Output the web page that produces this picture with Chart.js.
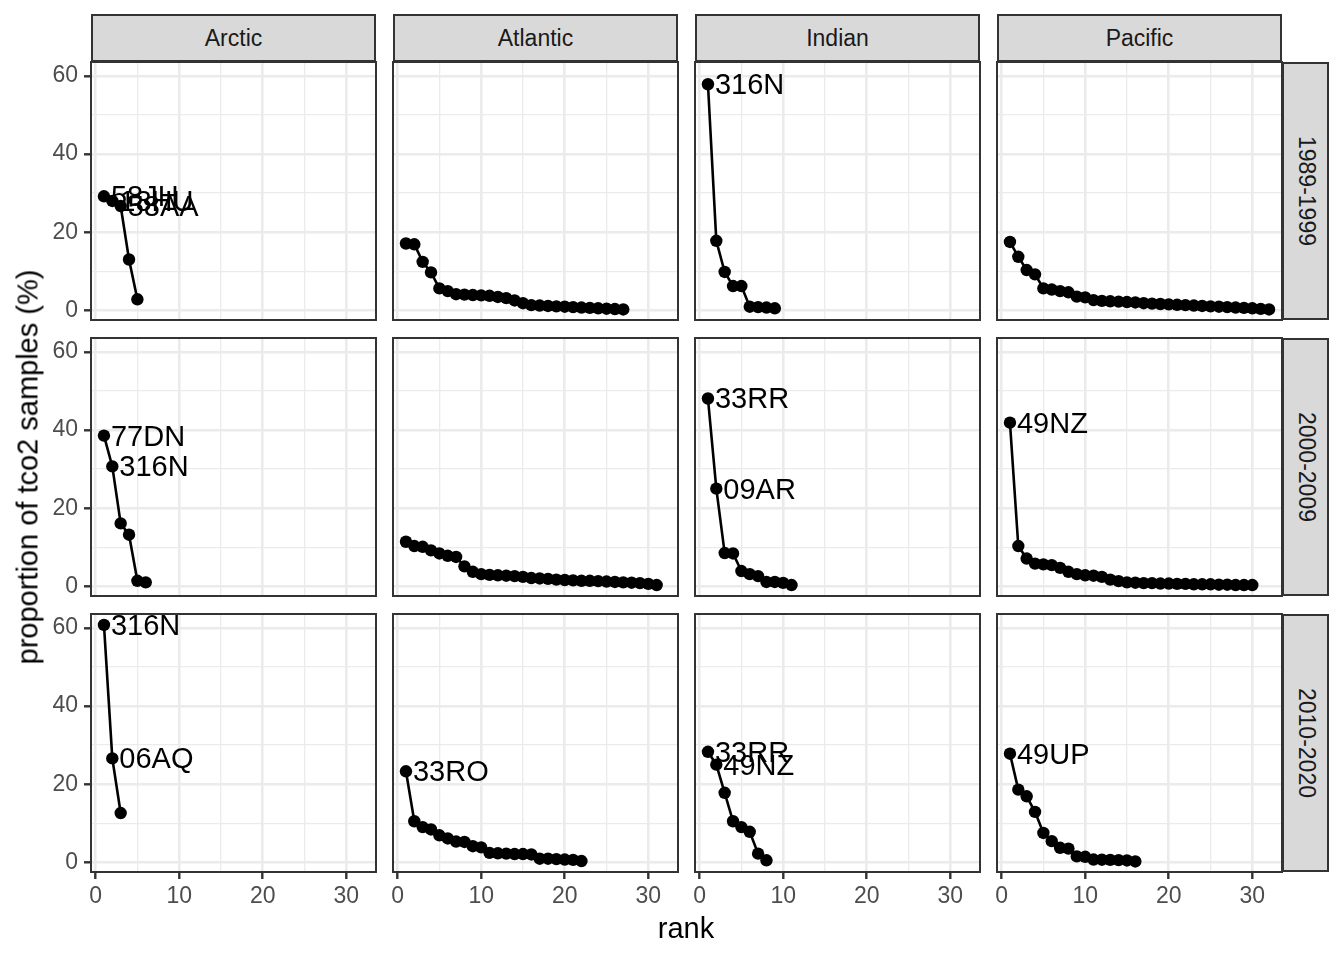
<!DOCTYPE html>
<html><head><meta charset="utf-8">
<script src="https://cdn.jsdelivr.net/npm/chart.js@4.4.1/dist/chart.umd.min.js"></script>
<style>
html,body{margin:0;padding:0;background:#fff;}
body{width:1344px;height:960px;position:relative;overflow:hidden;font-family:"Liberation Sans",Arial,sans-serif;}
canvas{position:absolute;}
.strip{position:absolute;background:#D9D9D9;border:2px solid #333;box-sizing:border-box;color:#1A1A1A;font-size:23px;}
.title{position:absolute;color:#000;font-size:29px;}
.strip span,.title span{position:absolute;left:50%;top:50%;white-space:nowrap;display:block;}
</style></head>
<body>
<script>
// ---- data ----
const regions = ['Arctic', 'Atlantic', 'Indian', 'Pacific'];
const periods = ['1989-1999', '2000-2009', '2010-2020'];
const xTicks = [0, 10, 20, 30];
const yTicks = [0, 20, 40, 60];

const arctic_1989   = [29.2, 28.0, 26.7, 13.0, 2.8];
const atlantic_1989 = [17.1, 16.9, 12.4, 9.7, 5.6, 4.9, 4.1, 4.0, 3.9, 3.8, 3.7, 3.4, 3.1, 2.5, 1.8, 1.3, 1.2, 1.1, 1.0, 0.9, 0.8, 0.7, 0.6, 0.5, 0.4, 0.3, 0.2];
const indian_1989   = [57.9, 17.8, 9.8, 6.2, 6.2, 0.9, 0.8, 0.7, 0.5];
const pacific_1989  = [17.5, 13.7, 10.3, 9.2, 5.6, 5.3, 4.9, 4.6, 3.5, 3.3, 2.6, 2.4, 2.3, 2.2, 2.1, 2.0, 1.8, 1.7, 1.6, 1.5, 1.4, 1.3, 1.2, 1.1, 1.0, 0.9, 0.8, 0.7, 0.6, 0.5, 0.35, 0.2];

const arctic_2000   = [38.6, 30.7, 16.1, 13.2, 1.4, 1.0];
const atlantic_2000 = [11.4, 10.3, 10.1, 9.2, 8.4, 7.8, 7.5, 5.1, 3.7, 3.1, 2.9, 2.8, 2.7, 2.6, 2.4, 2.1, 2.0, 1.9, 1.7, 1.6, 1.5, 1.4, 1.4, 1.3, 1.2, 1.1, 1.0, 0.9, 0.8, 0.6, 0.3];
const indian_2000   = [48.1, 25.0, 8.5, 8.4, 3.9, 3.1, 2.6, 1.1, 1.1, 0.85, 0.3];
const pacific_2000  = [41.9, 10.3, 7.1, 5.8, 5.6, 5.4, 4.7, 3.7, 3.1, 2.8, 2.7, 2.4, 1.7, 1.3, 1.0, 0.9, 0.8, 0.8, 0.7, 0.7, 0.6, 0.6, 0.5, 0.5, 0.5, 0.4, 0.4, 0.3, 0.3, 0.3];

const arctic_2010   = [60.8, 26.6, 12.6];
const atlantic_2010 = [23.3, 10.5, 9.0, 8.4, 6.9, 6.1, 5.3, 5.2, 4.1, 3.8, 2.4, 2.3, 2.2, 2.1, 2.1, 2.0, 0.9, 0.9, 0.8, 0.7, 0.6, 0.3];
const indian_2010   = [28.3, 25.0, 17.8, 10.5, 9.0, 7.8, 2.2, 0.5];
const pacific_2010  = [27.8, 18.6, 16.9, 12.9, 7.5, 5.4, 3.7, 3.5, 1.5, 1.4, 0.7, 0.65, 0.6, 0.55, 0.45, 0.2];

// cruise labels for the top-ranked points
const arctic_1989_labels   = ['58JH', '18HU', '58AA'];
const atlantic_1989_labels = [];
const indian_1989_labels   = ['316N'];
const pacific_1989_labels  = [];
const arctic_2000_labels   = ['77DN', '316N'];
const atlantic_2000_labels = [];
const indian_2000_labels   = ['33RR', '09AR'];
const pacific_2000_labels  = ['49NZ'];
const arctic_2010_labels   = ['316N', '06AQ'];
const atlantic_2010_labels = ['33RO'];
const indian_2010_labels   = ['33RR', '49NZ'];
const pacific_2010_labels  = ['49UP'];

const grid = [
  [arctic_1989, atlantic_1989, indian_1989, pacific_1989],
  [arctic_2000, atlantic_2000, indian_2000, pacific_2000],
  [arctic_2010, atlantic_2010, indian_2010, pacific_2010]
];
const gridLabels = [
  [arctic_1989_labels, atlantic_1989_labels, indian_1989_labels, pacific_1989_labels],
  [arctic_2000_labels, atlantic_2000_labels, indian_2000_labels, pacific_2000_labels],
  [arctic_2010_labels, atlantic_2010_labels, indian_2010_labels, pacific_2010_labels]
];

// ---- layout ----
const colL = [91, 393, 695, 997], PW = 285;
const rowT = [62, 338, 614], PH = 258;
const M = 24;
const XMIN = -0.55, XMAX = 33.55, YMIN = -2.5, YMAX = 63.6;
const FONT = '"Liberation Sans", Arial, sans-serif';

const panelPlugin = {
  id: 'panelDeco',
  afterDatasetsDraw(chart, args, opts) {
    const ctx = chart.ctx;
    const meta = chart.getDatasetMeta(0);
    ctx.save();
    ctx.font = '29px ' + FONT;
    ctx.fillStyle = '#000';
    ctx.textAlign = 'left';
    ctx.textBaseline = 'middle';
    (opts.labels || []).forEach((lab, i) => {
      const p = meta.data[i];
      ctx.fillText(lab, p.x + 7, p.y + 2);
    });
    ctx.restore();
  },
  afterDraw(chart) {
    const a = chart.chartArea, ctx = chart.ctx;
    ctx.save();
    ctx.strokeStyle = '#333333';
    ctx.lineWidth = 2;
    ctx.strokeRect(a.left, a.top, a.right - a.left, a.bottom - a.top);
    ctx.restore();
  }
};

function addDiv(cls, l, t, w, h, txt, rot) {
  const d = document.createElement('div');
  d.className = cls;
  d.style.left = l + 'px'; d.style.top = t + 'px';
  d.style.width = w + 'px'; d.style.height = h + 'px';
  const s = document.createElement('span');
  s.textContent = txt;
  s.style.transform = 'translate(-50%,-50%)' + (rot ? ' rotate(' + rot + 'deg)' : '');
  d.appendChild(s);
  document.body.appendChild(d);
}

// strips
regions.forEach((r, c) => addDiv('strip', colL[c], 14, PW, 48, r));
periods.forEach((p, r) => addDiv('strip', 1282, rowT[r], 47, PH, p, 90));

for (let r = 0; r < 3; r++) {
  for (let c = 0; c < 4; c++) {
    const showY = c === 0, showX = r === 2;
    const left = showY ? 0 : colL[c] - M;
    const top = rowT[r] - M;
    const right = colL[c] + PW + M;
    const bottom = showX ? 925 : rowT[r] + PH + M;
    const cv = document.createElement('canvas');
    cv.width = right - left; cv.height = bottom - top;
    cv.style.left = left + 'px'; cv.style.top = top + 'px';
    cv.style.width = cv.width + 'px'; cv.style.height = cv.height + 'px';
    document.body.appendChild(cv);
    const vals = grid[r][c];
    new Chart(cv, {
      type: 'line',
      data: {
        datasets: [{
          data: vals.map((v, i) => ({ x: i + 1, y: v })),
          borderColor: '#000', backgroundColor: '#000',
          borderWidth: 2.6, pointRadius: 6.2, pointBorderWidth: 0,
          pointHoverRadius: 6.2, tension: 0, clip: false
        }]
      },
      options: {
        responsive: false, animation: false, devicePixelRatio: 1, events: [],
        layout: { padding: { left: showY ? 0 : M, right: M, top: M, bottom: showX ? 0 : M } },
        plugins: { legend: { display: false }, tooltip: { enabled: false }, panelDeco: { labels: gridLabels[r][c] } },
        scales: {
          x: {
            type: 'linear', min: XMIN, max: XMAX,
            afterBuildTicks: s => { s.ticks = [0, 5, 10, 15, 20, 25, 30].map(v => ({ value: v })); },
            afterFit: s => { s.height = showX ? 925 - (rowT[r] + PH) : 0; },
            border: { display: false },
            grid: {
              color: '#EBEBEB',
              lineWidth: ctx => (ctx.tick && ctx.tick.value % 10 === 0) ? 2.6 : 1.3,
              drawTicks: showX, tickLength: 7,
              tickColor: ctx => (ctx.tick && ctx.tick.value % 10 === 0) ? '#333333' : 'rgba(0,0,0,0)',
              tickWidth: 2.4
            },
            ticks: {
              display: showX, autoSkip: false, maxRotation: 0, padding: 4,
              color: '#4D4D4D', font: { size: 23, family: FONT },
              callback: v => xTicks.includes(v) ? String(v) : ''
            }
          },
          y: {
            type: 'linear', min: YMIN, max: YMAX,
            afterBuildTicks: s => { s.ticks = [0, 10, 20, 30, 40, 50, 60].map(v => ({ value: v })); },
            afterFit: s => { s.width = showY ? colL[0] : 0; },
            border: { display: false },
            grid: {
              color: '#EBEBEB',
              lineWidth: ctx => (ctx.tick && ctx.tick.value % 20 === 0) ? 2.6 : 1.3,
              drawTicks: showY, tickLength: 7,
              tickColor: ctx => (ctx.tick && ctx.tick.value % 20 === 0) ? '#333333' : 'rgba(0,0,0,0)',
              tickWidth: 2.4
            },
            ticks: {
              display: showY, autoSkip: false, padding: 6,
              color: '#4D4D4D', font: { size: 23, family: FONT },
              callback: v => yTicks.includes(v) ? String(v) : ''
            }
          }
        }
      },
      plugins: [panelPlugin]
    });
  }
}

// axis titles
addDiv('title', 686, 928, 0, 0, 'rank');
addDiv('title', 28, 467, 0, 0, 'proportion of tco2 samples (%)', -90);
</script>
</body></html>
